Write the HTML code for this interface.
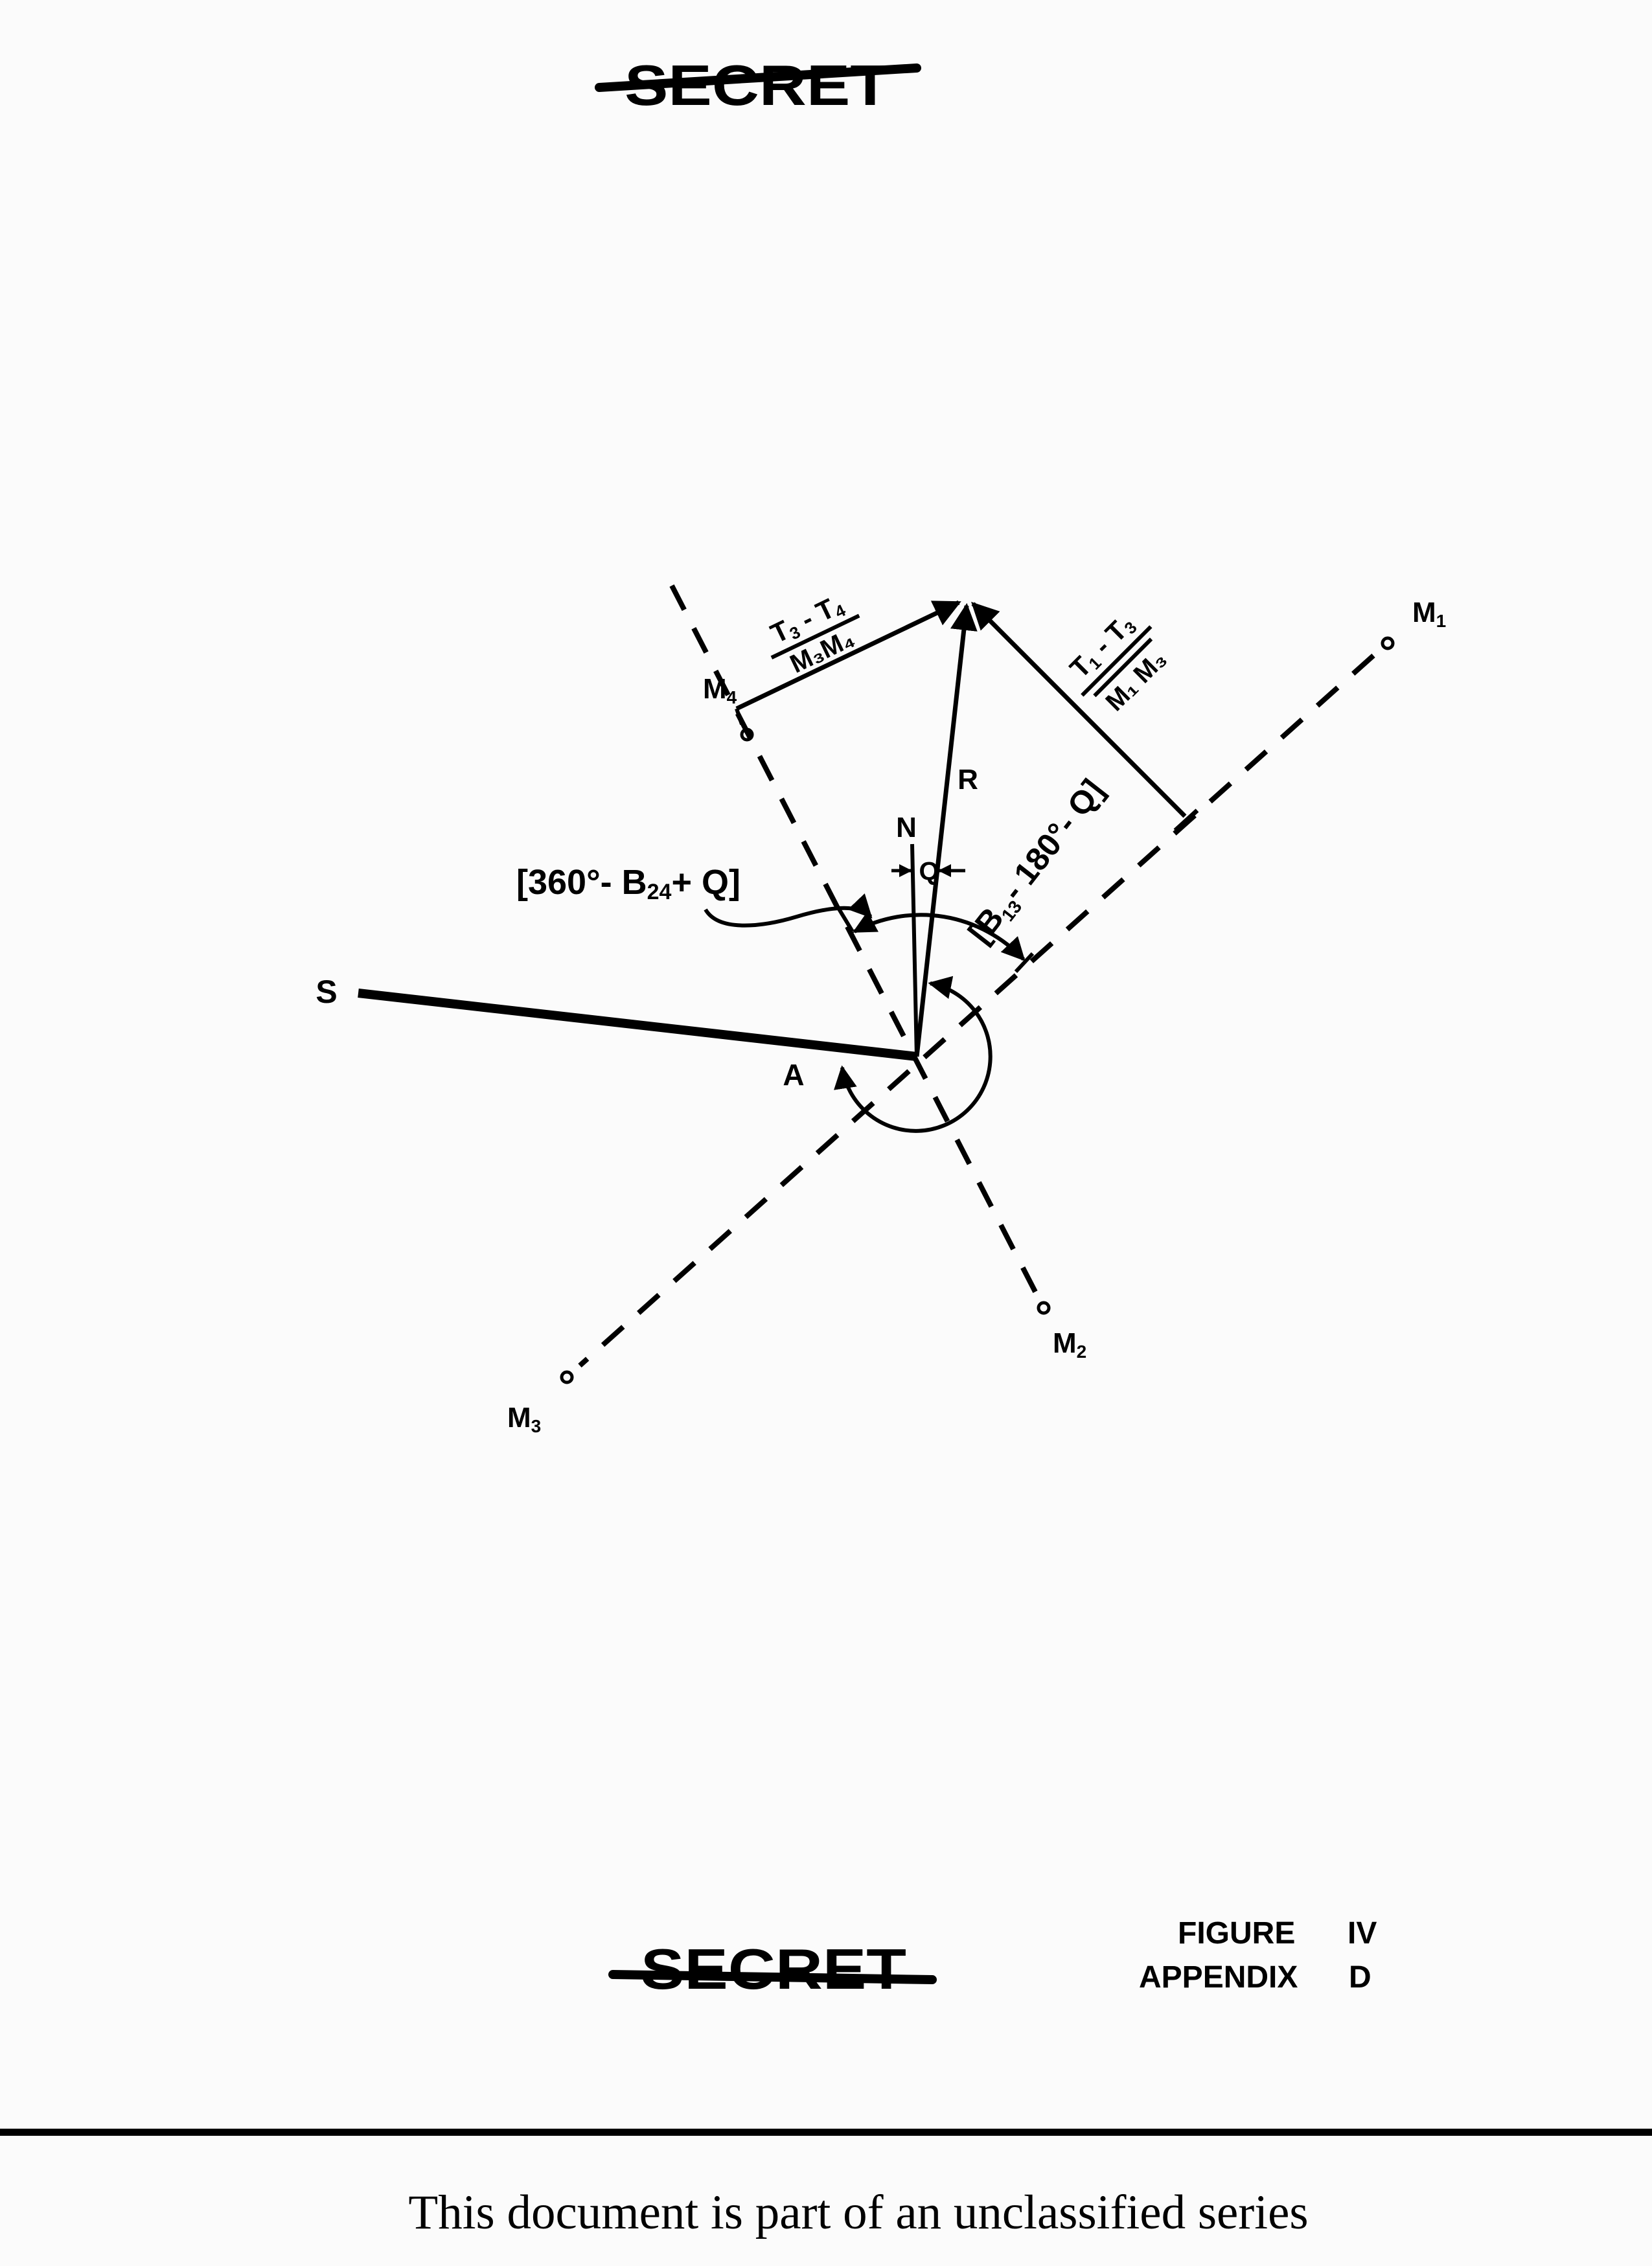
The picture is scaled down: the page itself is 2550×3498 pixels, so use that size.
<!DOCTYPE html>
<html><head><meta charset="utf-8"><style>
html,body{margin:0;padding:0;background:#fbfbfb;}
svg{display:block}
text{font-family:"Liberation Sans",sans-serif;font-weight:bold;fill:#000}
</style></head><body>
<svg width="2550" height="3498" viewBox="0 0 2550 3498" xmlns="http://www.w3.org/2000/svg">
<rect width="2550" height="3498" fill="#fbfbfb"/>
<defs>
<marker id="ah" viewBox="0 0 10 10" refX="9" refY="5" markerWidth="6" markerHeight="6" orient="auto-start-reverse" markerUnits="strokeWidth"><path d="M0,0 L10,5 L0,10 z" fill="#000"/></marker>
<marker id="ahs" viewBox="0 0 10 10" refX="9" refY="5" markerWidth="4" markerHeight="4" orient="auto-start-reverse" markerUnits="strokeWidth"><path d="M0,0 L10,5 L0,10 z" fill="#000"/></marker>
</defs>
<text x="1169" y="162" font-size="88" text-anchor="middle" textLength="410" lengthAdjust="spacingAndGlyphs">SECRET</text>
<line x1="925" y1="135" x2="1415" y2="105" stroke="#000" stroke-width="14" stroke-linecap="round"/>
<text x="1194" y="3070" font-size="88" text-anchor="middle" textLength="410" lengthAdjust="spacingAndGlyphs">SECRET</text>
<line x1="946" y1="3048" x2="1439" y2="3056" stroke="#000" stroke-width="14" stroke-linecap="round"/>

<g stroke="#000" fill="none" stroke-width="8">
<line x1="2120" y1="1012" x2="895" y2="2108" stroke-dasharray="42,32"/>
<line x1="1037" y1="904" x2="1600" y2="1998" stroke-dasharray="42,32"/>
<line x1="553" y1="1533" x2="1415" y2="1631" stroke-width="14"/>
<line x1="1415" y1="1631" x2="1492" y2="935" stroke-width="7" marker-end="url(#ah)"/>
<line x1="1415" y1="1631" x2="1408" y2="1303" stroke-width="6"/>
<line x1="1137" y1="1094" x2="1480" y2="930" stroke-width="7" marker-end="url(#ah)"/>
<line x1="1137" y1="1094" x2="1145" y2="1118" stroke-width="6"/>
<line x1="1829" y1="1260" x2="1502" y2="932" stroke-width="7" marker-end="url(#ah)"/>
<line x1="1814" y1="1282" x2="1848" y2="1251" stroke-width="7"/>
<circle cx="1153" cy="1134" r="8" stroke-width="5"/>
<circle cx="2142" cy="993" r="8" stroke-width="5"/>
<circle cx="1611" cy="2019" r="8" stroke-width="5"/>
<circle cx="875" cy="2126" r="8" stroke-width="5"/>
<path d="M1580,1481 A217,217 0 0 0 1319,1438" stroke-width="6" marker-start="url(#ah)" marker-end="url(#ah)"/>
<line x1="1568" y1="1500" x2="1594" y2="1472" stroke-width="6"/>
<path d="M1290,1395 L1316,1438" stroke-width="6"/>
<path d="M1436,1518 A115,115 0 1 1 1300,1648" stroke-width="6" marker-start="url(#ah)" marker-end="url(#ah)"/>
<line x1="1376" y1="1344" x2="1406" y2="1344" stroke-width="5" marker-end="url(#ahs)"/>
<line x1="1490" y1="1344" x2="1450" y2="1344" stroke-width="5" marker-end="url(#ahs)"/>
<path d="M1089,1404 C1110,1440 1180,1430 1230,1415 C1280,1400 1325,1395 1344,1415" stroke-width="6" marker-end="url(#ah)"/>
</g>

<text x="504" y="1548" font-size="50" text-anchor="middle">S</text>
<text x="1225" y="1675" font-size="46" text-anchor="middle">A</text>
<text x="1494" y="1218" font-size="44" text-anchor="middle">R</text>
<text x="1399" y="1292" font-size="44" text-anchor="middle">N</text>
<text x="1434" y="1358" font-size="40" text-anchor="middle">Q</text>
<text x="1085" y="1078" font-size="44">M<tspan font-size="28" dy="8">4</tspan></text>
<text x="2180" y="960" font-size="44">M<tspan font-size="28" dy="8">1</tspan></text>
<text x="1625" y="2088" font-size="44">M<tspan font-size="28" dy="8">2</tspan></text>
<text x="783" y="2203" font-size="44">M<tspan font-size="28" dy="8">3</tspan></text>
<text x="970" y="1380" font-size="54" text-anchor="middle">[360°- B<tspan font-size="34" dy="8">24</tspan><tspan dy="-8">+ Q]</tspan></text>
<g transform="translate(1262,990) rotate(-25.6)">
<text x="0" y="-24" font-size="42" text-anchor="middle">T<tspan font-size="26" dy="6">3</tspan><tspan dy="-6"> - T</tspan><tspan font-size="26" dy="6">4</tspan></text>
<line x1="-75" y1="-8" x2="75" y2="-8" stroke="#000" stroke-width="6"/>
<text x="0" y="30" font-size="40" text-anchor="middle">M₃M₄</text>
</g>
<g transform="translate(1729,1026) rotate(-45)">
<text x="0" y="-26" font-size="42" text-anchor="middle">T<tspan font-size="26" dy="6">1</tspan><tspan dy="-6"> - T</tspan><tspan font-size="26" dy="6">3</tspan></text>
<line x1="-75" y1="-8" x2="75" y2="-8" stroke="#000" stroke-width="6"/>
<line x1="-62" y1="6" x2="62" y2="6" stroke="#000" stroke-width="6"/>
<text x="0" y="48" font-size="40" text-anchor="middle">M₁ M₃</text>
</g>
<g transform="translate(1600,1330) rotate(-52)">
<text x="0" y="16" font-size="50" text-anchor="middle">[B<tspan font-size="28" dy="10">13</tspan><tspan dy="-10">- 180°- Q]</tspan></text>
</g>

<text x="1818" y="3000" font-size="48">FIGURE</text>
<text x="2080" y="3000" font-size="48">IV</text>
<text x="1758" y="3068" font-size="48">APPENDIX</text>
<text x="2082" y="3068" font-size="48">D</text>

<rect x="0" y="3286" width="2550" height="11" fill="#000"/>
<text x="1325" y="3440" font-size="75" text-anchor="middle" style="font-family:'Liberation Serif',serif;font-weight:normal">This document is part of an unclassified series</text>
</svg>
</body></html>
